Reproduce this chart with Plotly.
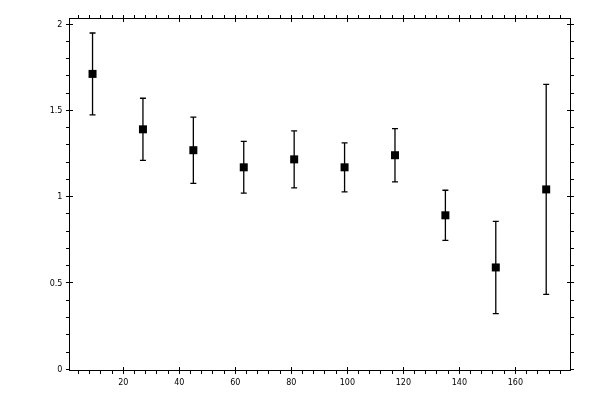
import plotly.graph_objects as go

# measured points (x = bin centre, y = mean, err = symmetric error)
x_vals = [9, 27, 45, 63, 81, 99, 117, 135, 153, 171]
y_vals = [1.711, 1.390, 1.269, 1.170, 1.216, 1.170, 1.240, 0.892, 0.590, 1.042]
y_err = [0.237, 0.180, 0.192, 0.150, 0.165, 0.142, 0.154, 0.145, 0.267, 0.608]

x_range = [0.95, 179.5]
y_range = [-0.004, 2.029]

fig = go.Figure()

fig.add_trace(go.Scatter(
    x=x_vals, y=y_vals, mode="markers",
    marker=dict(symbol="square", size=8, color="black"),
    error_y=dict(type="data", array=y_err, visible=True,
                 color="black", thickness=1.3, width=3),
    showlegend=False, hoverinfo="skip",
))

# ghost trace so the second axis pair (inner half of major ticks) gets drawn
fig.add_trace(go.Scatter(
    x=x_vals, y=y_vals, mode="markers", opacity=0,
    xaxis="x2", yaxis="y2", showlegend=False, hoverinfo="skip",
))

tick_font = dict(family="DejaVu Sans", size=8, color="black")

# page body has an 8px margin, so pull the plot up/left by that much
fig.update_layout(
    width=600, height=400,
    paper_bgcolor="white", plot_bgcolor="white",
    margin=dict(l=62, r=38, t=11, b=38),
    font=tick_font,
    xaxis=dict(
        range=x_range, tick0=0, dtick=20, ticks="outside", ticklen=3,
        tickcolor="black", tickwidth=1, showline=True, linecolor="black",
        linewidth=1, mirror="ticks", showgrid=False, zeroline=False,
        tickfont=tick_font, ticklabelstandoff=1, automargin=False,
        minor=dict(ticks="outside", ticklen=3, dtick=4, tick0=0,
                   tickcolor="black", tickwidth=1, showgrid=False),
    ),
    yaxis=dict(
        range=y_range, tick0=0, dtick=0.5, ticks="outside", ticklen=3,
        tickcolor="black", tickwidth=1, showline=True, linecolor="black",
        linewidth=1, mirror="ticks", showgrid=False, zeroline=False,
        tickfont=tick_font, ticklabelstandoff=2, automargin=False,
        minor=dict(ticks="outside", ticklen=3, dtick=0.1, tick0=0,
                   tickcolor="black", tickwidth=1, showgrid=False),
    ),
    xaxis2=dict(
        range=x_range, overlaying="x", anchor="y2", tick0=0, dtick=20,
        ticks="inside", ticklen=3, tickcolor="black", tickwidth=1,
        mirror="ticks", showline=False, showgrid=False, zeroline=False,
        showticklabels=False, automargin=False,
    ),
    yaxis2=dict(
        range=y_range, overlaying="y", anchor="x2", tick0=0, dtick=0.5,
        ticks="inside", ticklen=3, tickcolor="black", tickwidth=1,
        mirror="ticks", showline=False, showgrid=False, zeroline=False,
        showticklabels=False, automargin=False,
    ),
)

fig.write_html("out.html")
